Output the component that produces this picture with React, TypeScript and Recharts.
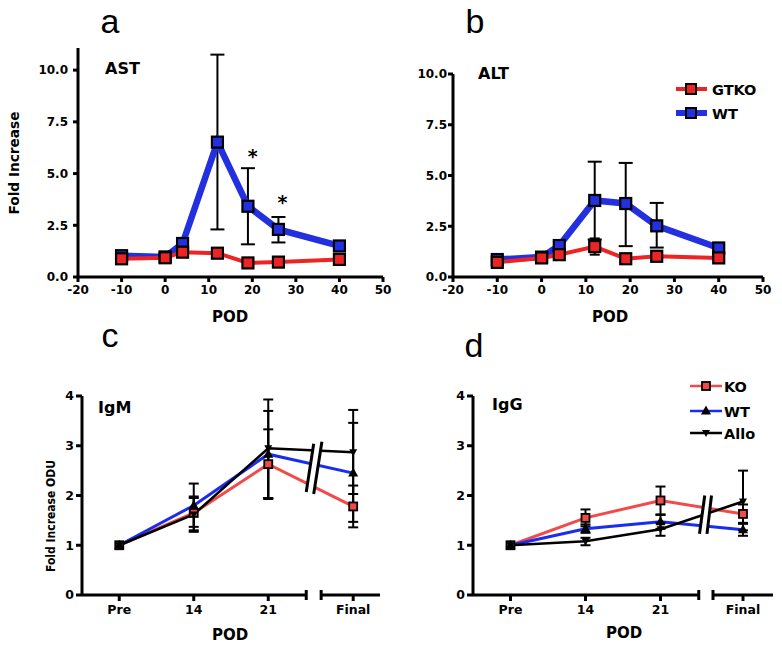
import { LineChart, Line, XAxis, YAxis, ErrorBar, ReferenceLine, ReferenceDot } from "recharts";

// panels a/b: post-operative day
const podDays = [-10, 0, 4, 12, 19, 26, 40];
const podTicks = [-20, -10, 0, 10, 20, 30, 40, 50];

// a: AST fold increase (null = no visible error bar)
const astGtko = [0.88, 0.93, 1.2, 1.15, 0.68, 0.72, 0.85];
const astGtkoLow = [null, null, null, 1.0, null, null, null];
const astGtkoHigh = [null, null, null, 1.3, null, null, null];
const astWt = [1.03, 0.97, 1.62, 6.52, 3.42, 2.3, 1.5];
const astWtLow = [null, null, null, 2.3, 1.58, 1.67, null];
const astWtHigh = [null, null, null, 10.75, 5.26, 2.9, null];
const starDays = [20.1, 26.9];
const starLevels = [5.85, 3.6];

// b: ALT fold increase
const altGtko = [0.72, 0.94, 1.1, 1.5, 0.9, 1.02, 0.94];
const altGtkoLow = [null, null, null, 1.1, null, null, null];
const altGtkoHigh = [null, null, null, 1.9, null, null, null];
const altWt = [0.86, 0.98, 1.55, 3.77, 3.62, 2.52, 1.43];
const altWtLow = [null, null, null, 1.85, 1.52, 1.45, null];
const altWtHigh = [null, null, null, 5.68, 5.62, 3.65, null];

// c/d: antibody levels
const abCats = ["Pre", "14", "21", "Final"];
const igmSlots = [0, 1, 2, 3.14];
const iggSlots = [0, 1, 2, 3.1];

const igmKo = [1.0, 1.65, 2.63, 1.78];
const igmKoLow = [null, 1.27, 1.95, 1.36];
const igmKoHigh = [null, 1.98, 3.33, 2.2];
const igmWt = [1.0, 1.8, 2.83, 2.45];
const igmWtLow = [null, 1.37, 1.95, 1.47];
const igmWtHigh = [null, 2.24, 3.7, 3.46];
const igmAllo = [1.0, 1.62, 2.95, 2.87];
const igmAlloLow = [null, 1.3, 1.93, 2.03];
const igmAlloHigh = [null, 1.95, 3.93, 3.72];

const iggKo = [1.0, 1.55, 1.9, 1.63];
const iggKoLow = [null, 1.38, 1.62, 1.45];
const iggKoHigh = [null, 1.72, 2.18, 1.82];
const iggWt = [1.0, 1.33, 1.47, 1.31];
const iggWtLow = [null, 1.25, 1.33, 1.19];
const iggWtHigh = [null, 1.42, 1.61, 1.43];
const iggAllo = [1.0, 1.08, 1.32, 1.88];
const iggAlloLow = [null, 1.0, 1.19, 1.3];
const iggAlloHigh = [null, 1.15, 1.45, 2.5];

const RED = "#ee2424";
const BLUE = "#2230e0";
const RED2 = "#f24a4a";
const BLUE2 = "#1a2cf0";

const err = (v: number, lo: number | null, hi: number | null) =>
  lo == null || hi == null ? null : [v - lo, hi - v];

const liverRows = (gtko: number[], gLo: any[], gHi: any[], wt: number[], wLo: any[], wHi: any[]) =>
  podDays.map((x, i) => ({
    x,
    gtko: gtko[i],
    gtkoErr: err(gtko[i], gLo[i], gHi[i]),
    wt: wt[i],
    wtErr: err(wt[i], wLo[i], wHi[i]),
  }));

const abRows = (slots: number[], ko: number[], koLo: any[], koHi: any[], wt: number[], wtLo: any[], wtHi: any[], al: number[], alLo: any[], alHi: any[]) =>
  slots.map((x, i) => ({
    x,
    ko: ko[i],
    koErr: err(ko[i], koLo[i], koHi[i]),
    wt: wt[i],
    wtErr: err(wt[i], wtLo[i], wtHi[i]),
    allo: al[i],
    alloErr: err(al[i], alLo[i], alHi[i]),
  }));

const astData = liverRows(astGtko, astGtkoLow, astGtkoHigh, astWt, astWtLow, astWtHigh);
const altData = liverRows(altGtko, altGtkoLow, altGtkoHigh, altWt, altWtLow, altWtHigh);
const igmData = abRows(igmSlots, igmKo, igmKoLow, igmKoHigh, igmWt, igmWtLow, igmWtHigh, igmAllo, igmAlloLow, igmAlloHigh);
const iggData = abRows(iggSlots, iggKo, iggKoLow, iggKoHigh, iggWt, iggWtLow, iggWtHigh, iggAllo, iggAlloLow, iggAlloHigh);

const FONT = "DejaVu Sans";
const axisStroke = { stroke: "#000", strokeWidth: 3 };

// bold tick text, since the default tick drops the weight
const boldTick = (size: number) => (p: any) => {
  const v = p.tickFormatter ? p.tickFormatter(p.payload.value, p.index) : p.payload.value;
  const dy = p.verticalAnchor === "start" ? "0.71em" : "0.355em";
  return (
    <text x={p.x} y={p.y} dy={dy} textAnchor={p.textAnchor} fill="#000"
      style={{ fontFamily: FONT, fontWeight: 700, fontSize: size }}>
      {v}
    </text>
  );
};

const square = (size: number, fill: string, sw: number) => (p: any) => {
  if (p.cx == null || p.cy == null) return <g key={p.index} />;
  return (
    <rect key={p.index} x={p.cx - size / 2} y={p.cy - size / 2} width={size} height={size}
      fill={fill} stroke="#000" strokeWidth={sw} />
  );
};

const triUp = (p: any) => {
  if (p.cx == null || p.cy == null) return <g key={p.index} />;
  const { cx, cy } = p;
  return <path key={p.index} d={`M${cx},${cy - 5.5}L${cx + 5},${cy + 3.5}L${cx - 5},${cy + 3.5}Z`} fill="#000" />;
};

const triDown = (p: any) => {
  if (p.cx == null || p.cy == null) return <g key={p.index} />;
  const { cx, cy } = p;
  return <path key={p.index} d={`M${cx},${cy + 4}L${cx + 4},${cy - 3}L${cx - 4},${cy - 3}Z`} fill="#000" />;
};

function LiverPanel({ data, yMax, yWidth, width, right, top, tickMargin, stars }: any) {
  return (
    <LineChart width={width} height={330} data={data} margin={{ top, right, bottom: 0, left: 0 }}>
      <XAxis type="number" dataKey="x" domain={[-20, 50]} ticks={podTicks} allowDataOverflow interval={0}
        height={53} axisLine={axisStroke} tickLine={axisStroke} tickSize={5} tickMargin={3} tick={boldTick(12)} />
      <YAxis type="number" domain={[0, yMax]} ticks={[0, 2.5, 5, 7.5, 10]} allowDataOverflow interval={0}
        width={yWidth} axisLine={axisStroke} tickLine={axisStroke} tickSize={5} tickMargin={tickMargin}
        tick={boldTick(12)} tickFormatter={(v: number) => v.toFixed(1)} />
      <Line dataKey="wt" stroke={BLUE} strokeWidth={6.5} isAnimationActive={false} activeDot={false}
        dot={square(11, BLUE, 2.2)}>
        <ErrorBar dataKey="wtErr" direction="y" width={7} stroke="#000" strokeWidth={2} isAnimationActive={false} />
      </Line>
      <Line dataKey="gtko" stroke={RED} strokeWidth={4} isAnimationActive={false} activeDot={false}
        dot={square(11, RED, 2.2)}>
        <ErrorBar dataKey="gtkoErr" direction="y" width={5} stroke="#000" strokeWidth={2} isAnimationActive={false} />
      </Line>
      {stars &&
        starDays.map((d, i) => (
          <ReferenceDot key={i} x={d} y={starLevels[i]} r={0} fill="none" stroke="none"
            label={{ value: "*", position: "center", fill: "#000", fontSize: 19, fontWeight: 700, fontFamily: FONT }} />
        ))}
    </LineChart>
  );
}

function AbPanel({ data, slots, width, yWidth, right, breakLines, axisGap }: any) {
  const seg = (a: number[], b: number[]) => [{ x: a[0], y: a[1] }, { x: b[0], y: b[1] }];
  return (
    <LineChart width={width} height={327} data={data} margin={{ top: 76, right, bottom: 0, left: 0 }}>
      <XAxis type="number" dataKey="x" domain={[-0.5, 3.5]} ticks={slots} allowDataOverflow interval={0}
        height={52} axisLine={false} tickLine={axisStroke} tickSize={6} tickMargin={4} tick={boldTick(12.5)}
        tickFormatter={(v: number) => abCats[slots.indexOf(v)]} />
      <YAxis type="number" domain={[0, 4]} ticks={[0, 1, 2, 3, 4]} allowDataOverflow interval={0}
        width={yWidth} axisLine={axisStroke} tickLine={axisStroke} tickSize={6} tickMargin={2} tick={boldTick(12.5)} />
      <Line dataKey="ko" stroke={RED2} strokeWidth={3} isAnimationActive={false} activeDot={false}
        dot={square(8, RED2, 1.8)}>
        <ErrorBar dataKey="koErr" direction="y" width={5} stroke="#000" strokeWidth={2} isAnimationActive={false} />
      </Line>
      <Line dataKey="wt" stroke={BLUE2} strokeWidth={3} isAnimationActive={false} activeDot={false} dot={triUp}>
        <ErrorBar dataKey="wtErr" direction="y" width={5} stroke="#000" strokeWidth={2} isAnimationActive={false} />
      </Line>
      <Line dataKey="allo" stroke="#000" strokeWidth={2.6} isAnimationActive={false} activeDot={false} dot={triDown}>
        <ErrorBar dataKey="alloErr" direction="y" width={5} stroke="#000" strokeWidth={2} isAnimationActive={false} />
      </Line>
      {/* broken x axis */}
      <ReferenceLine ifOverflow="visible" segment={seg([-0.5, 0], [axisGap[0], 0])} stroke="#000" strokeWidth={3} />
      <ReferenceLine ifOverflow="visible" segment={seg([axisGap[1], 0], [3.5, 0])} stroke="#000" strokeWidth={3} />
      <ReferenceLine ifOverflow="visible" segment={seg([axisGap[0], -0.1], [axisGap[0], 0.1])} stroke="#000" strokeWidth={3} />
      <ReferenceLine ifOverflow="visible" segment={seg([axisGap[1], -0.1], [axisGap[1], 0.1])} stroke="#000" strokeWidth={3} />
      {/* break marks across the series */}
      <ReferenceLine ifOverflow="visible" segment={seg(breakLines.gap[0], breakLines.gap[1])} stroke="#fff" strokeWidth={6} />
      <ReferenceLine ifOverflow="visible" segment={seg(breakLines.a[0], breakLines.a[1])} stroke="#000" strokeWidth={3} />
      <ReferenceLine ifOverflow="visible" segment={seg(breakLines.b[0], breakLines.b[1])} stroke="#000" strokeWidth={3} />
    </LineChart>
  );
}

const breakC = {
  a: [[2.51, 2.07], [2.61, 3.04]],
  b: [[2.61, 2.03], [2.72, 3.08]],
  gap: [[2.56, 2.05], [2.665, 3.06]],
};
const breakD = {
  a: [[2.52, 1.23], [2.59, 2.0]],
  b: [[2.62, 1.23], [2.68, 2.0]],
  gap: [[2.57, 1.23], [2.635, 2.0]],
};

const letter = { fontFamily: "Liberation Sans", fontSize: 34, fill: "#000" };
const bold = (size: number) => ({ fontFamily: FONT, fontWeight: 700, fontSize: size, fill: "#000" });

export default function App() {
  return (
    <div style={{ position: "absolute", left: 0, top: 0, width: 782, height: 647, background: "#fff" }}>
      <div style={{ position: "absolute", left: 0, top: 0 }}>
        <LiverPanel data={astData} yMax={11.07} yWidth={78} width={400} right={17} top={48} tickMargin={5} stars />
      </div>
      <div style={{ position: "absolute", left: 390, top: 0 }}>
        <LiverPanel data={altData} yMax={10} yWidth={63} width={392} right={19} top={74} tickMargin={1} />
      </div>
      <div style={{ position: "absolute", left: 0, top: 320 }}>
        <AbPanel data={igmData} slots={igmSlots} width={390} yWidth={82} right={10} breakLines={breakC} axisGap={[2.51, 2.71]} />
      </div>
      <div style={{ position: "absolute", left: 390, top: 320 }}>
        <AbPanel data={iggData} slots={iggSlots} width={392} yWidth={83} right={9} breakLines={breakD} axisGap={[2.51, 2.7]} />
      </div>
      <svg width={782} height={647} style={{ position: "absolute", left: 0, top: 0, pointerEvents: "none" }}>
        <text x={110} y={33} textAnchor="middle" style={letter}>a</text>
        <text x={475} y={33} textAnchor="middle" style={letter}>b</text>
        <text x={110} y={347} textAnchor="middle" style={letter}>c</text>
        <text x={474} y={357} textAnchor="middle" style={letter}>d</text>

        <text x={105} y={74} style={bold(16)}>AST</text>
        <text x={478} y={79} style={bold(16)}>ALT</text>
        <text x={98} y={413} style={bold(16)}>IgM</text>
        <text x={492} y={410} style={bold(16)}>IgG</text>

        <text transform="translate(19,163) rotate(-90)" textAnchor="middle" textLength={103}
          lengthAdjust="spacingAndGlyphs" style={bold(13.5)}>Fold Increase</text>
        <text transform="translate(55,516) rotate(-90)" textAnchor="middle" textLength={112}
          lengthAdjust="spacingAndGlyphs" style={bold(13)}>Fold Increase  ODU</text>

        <text x={230} y={322} textAnchor="middle" style={bold(15)}>POD</text>
        <text x={610} y={322} textAnchor="middle" style={bold(15)}>POD</text>
        <text x={230} y={640} textAnchor="middle" style={bold(15)}>POD</text>
        <text x={624} y={638} textAnchor="middle" style={bold(15)}>POD</text>

        {/* legend b */}
        <line x1={676} x2={707} y1={89} y2={89} stroke={RED} strokeWidth={4} />
        <rect x={686} y={84} width={10} height={10} fill={RED} stroke="#000" strokeWidth={2} />
        <text x={712} y={94.5} style={bold(14.5)}>GTKO</text>
        <line x1={676} x2={707} y1={113} y2={113} stroke={BLUE} strokeWidth={6} />
        <rect x={686} y={108} width={10} height={10} fill={BLUE} stroke="#000" strokeWidth={2} />
        <text x={712} y={118.5} style={bold(14.5)}>WT</text>

        {/* legend d */}
        <line x1={690} x2={722} y1={386} y2={386} stroke={RED2} strokeWidth={2.5} />
        <rect x={702} y={382} width={8} height={8} fill={RED2} stroke="#000" strokeWidth={1.8} />
        <text x={724} y={391.5} style={bold(14.5)}>KO</text>
        <line x1={690} x2={722} y1={411} y2={411} stroke={BLUE2} strokeWidth={2.5} />
        <path d="M706,405.5L711,414.5L701,414.5Z" fill="#000" />
        <text x={724} y={416.5} style={bold(14.5)}>WT</text>
        <line x1={690} x2={722} y1={433} y2={433} stroke="#000" strokeWidth={2.5} />
        <path d="M706,437L710,430L702,430Z" fill="#000" />
        <text x={724} y={438.5} style={bold(14.5)}>Allo</text>
      </svg>
    </div>
  );
}
